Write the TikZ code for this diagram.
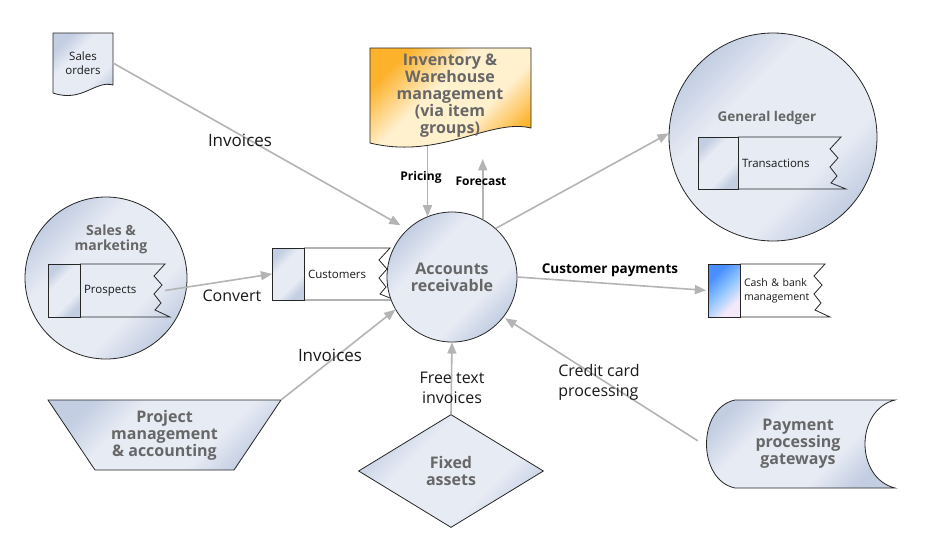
\documentclass[tikz,border=0pt]{standalone}
\usepackage{fontspec}
\setmainfont{Open Sans}
\usetikzlibrary{arrows,shapes.geometric,positioning,calc}

\definecolor{bluedark}{HTML}{C3CEE2}
\definecolor{bluelight}{HTML}{E7EBF4}
\definecolor{titlegray}{HTML}{676767}
\definecolor{flowgray}{HTML}{B4B4B4}
\definecolor{invorange}{HTML}{FDB22C}
\definecolor{invlight}{HTML}{FFF0CE}
\definecolor{cashblue}{HTML}{4A8FFF}
\definecolor{cashmid}{HTML}{90C6FF}
\definecolor{cashpink}{HTML}{F4E9F8}

\pgfdeclareverticalshading{blueshade}{100bp}{color(0bp)=(bluedark); color(25bp)=(bluedark); color(37bp)=(bluelight); color(62bp)=(bluelight); color(75bp)=(bluedark); color(100bp)=(bluedark)}
\pgfdeclareverticalshading{invshade}{100bp}{color(0bp)=(invorange); color(25bp)=(invorange); color(40bp)=(invlight); color(58bp)=(invlight); color(75bp)=(invorange); color(100bp)=(invorange)}
\pgfdeclareverticalshading{cashshade}{100bp}{color(0bp)=(cashpink); color(30bp)=(cashpink); color(50bp)=(cashmid); color(70bp)=(cashblue); color(100bp)=(cashblue)}

\tikzset{
  bluefill/.style={shading=blueshade,shading angle=45},
  outline/.style={draw=black!85,line width=0.8pt},
  bubble/.style={circle,outline,bluefill,inner sep=0pt},
  title/.style={text=titlegray,font=\bfseries\fontsize{16}{17}\selectfont,align=center},
  storetab/.style={rectangle,outline,bluefill,outer sep=0pt,inner sep=0pt},
  storetext/.style={rectangle,outer sep=0pt,inner xsep=4pt,inner ysep=0pt,align=left,text=black!90,font=\fontsize{11.5}{14}\selectfont},
  zig/.style={insert path={-- ++(-11,12) -- ++(8,9) -- ++(-8,9) -- ++(7,9) -- ++(-6,7)}},
  flow/.style={draw=flowgray,line width=1.6pt,-triangle 45},
  flowtext/.style={text=black!90,font=\fontsize{16}{20}\selectfont,align=center},
  flowbold/.style={text=black,font=\bfseries\fontsize{12}{14}\selectfont}
}

\begin{document}
\begin{tikzpicture}[x=1pt,y=-1pt]
\useasboundingbox[fill=white] (0,0) rectangle (935,539);

\path[outline,bluefill] (53,33) -- (113,33) -- (113,85) .. controls (95,80) and (82,103) .. (53,93) -- cycle;
\node[storetext,align=center,minimum width=60,minimum height=60] (so) at (83,63) {Sales\\orders};

\path[outline,shading=invshade,shading angle=45]
  (370,48) -- (531,48) -- (531,128) .. controls (490,118) and (440,160) .. (370,143) -- cycle;
\node[title,minimum width=161,minimum height=100] (inv) at (450,96) {Inventory \&\\Warehouse\\management\\(via item\\groups)};

\node[bubble,minimum size=208] (gl) at (773,137) {};
\node[title,font=\bfseries\fontsize{13.5}{15}\selectfont] (gltitle) at (767,118) {General ledger};
\node[storetab,minimum width=40,minimum height=52] (trtab) at (718,163) {};
\node[storetext,right=0pt of trtab,minimum width=103,minimum height=52,text width=95] (tr) {Transactions};
\draw[outline] (tr.north west) -- (tr.north east) [zig] -- ($(tr.south east)+(5,0)$) -- (tr.south west);

\node[bubble,minimum size=162] (sm) at (106,278) {};
\node[title,font=\bfseries\fontsize{14}{15}\selectfont] (smtitle) at (111,239) {Sales \&\\marketing};
\node[storetab,minimum width=32,minimum height=53] (prtab) at (64,290.5) {};
\node[storetext,right=0pt of prtab,minimum width=85,minimum height=53,text width=77] (pr) {Prospects};
\draw[outline] (pr.north west) -- (pr.north east) [zig] -- ($(pr.south east)+(5,0)$) -- (pr.south west);

\node[storetab,minimum width=32,minimum height=52] (cutab) at (288,274) {};
\node[storetext,right=0pt of cutab,minimum width=86,minimum height=52,text width=78] (cu) {Customers};
\draw[outline] (cu.north west) -- (cu.north east) [zig] -- ($(cu.south east)+(5,0)$) -- (cu.south west);

\node[bubble,minimum size=130,title] (ar) at (452,277) {Accounts\\receivable};

\node[storetab,minimum width=32,minimum height=53,shading=cashshade,shading angle=45] (catab) at (724,290.5) {};
\node[storetext,right=0pt of catab,minimum width=85,minimum height=53,text width=77,inner xsep=2pt,font=\fontsize{10.5}{14}\selectfont] (ca) {Cash \& bank\\management};
\draw[outline] (ca.north west) -- (ca.north east) [zig] -- ($(ca.south east)+(5,0)$) -- (ca.south west);

\path[outline,bluefill] (48,400) -- (281,400) -- (234,470) -- (95,470) -- cycle;
\node[title,minimum width=233,minimum height=70] (pm) at (164.5,435) {Project\\management\\\& accounting};

\node[diamond,outline,bluefill,minimum width=185,minimum height=113,inner sep=0pt,title] (fa) at (451,471) {Fixed\\assets};

\path[outline,bluefill] (735,400) -- (895,400) .. controls (855,410) and (855,478) .. (895,488) -- (735,488)
  .. controls (697,480) and (697,408) .. (735,400) -- cycle;
\node[title,minimum width=190,minimum height=88] (pg) at (798,444) {Payment\\processing\\gateways};

\draw[flow,shorten >=8pt] (so.east) -- (ar.133);
\draw[flow] (ar.112 |- inv.south) -- (ar.112);
\draw[flow,shorten >=13pt] (ar.62) -- (ar.62 |- inv.south);
\draw[flow] (ar.48) -- (gl.178);
\draw[flow] (pr.east) -- (cutab.west);
\draw[flow,shorten >=2pt] (ar.east) -- (catab.west);
\draw[flow] (pm.north east) -- (ar.210);
\draw[flow] (fa.north) -- (ar.south);
\draw[flow,shorten <=6pt,shorten >=2pt] (pg.west) -- (ar.322);

\node[flowtext,font=\fontsize{17}{20}\selectfont] (inv1) at (240,140) {Invoices};
\node[flowbold] (pricing) at (421,177) {Pricing};
\node[flowbold] (forecast) at (481,181) {Forecast};
\node[flowtext] (convert) at (232,296) {Convert};
\node[flowbold,font=\bfseries\fontsize{13.5}{15}\selectfont] (payments) at (610,270) {Customer payments};
\node[flowtext,font=\fontsize{17}{20}\selectfont] (inv2) at (330,355) {Invoices};
\node[flowtext] (freetext) at (452,388) {Free text\\invoices};
\node[flowtext,align=left] (credit) at (599,382) {Credit card\\processing};
\end{tikzpicture}
\end{document}
